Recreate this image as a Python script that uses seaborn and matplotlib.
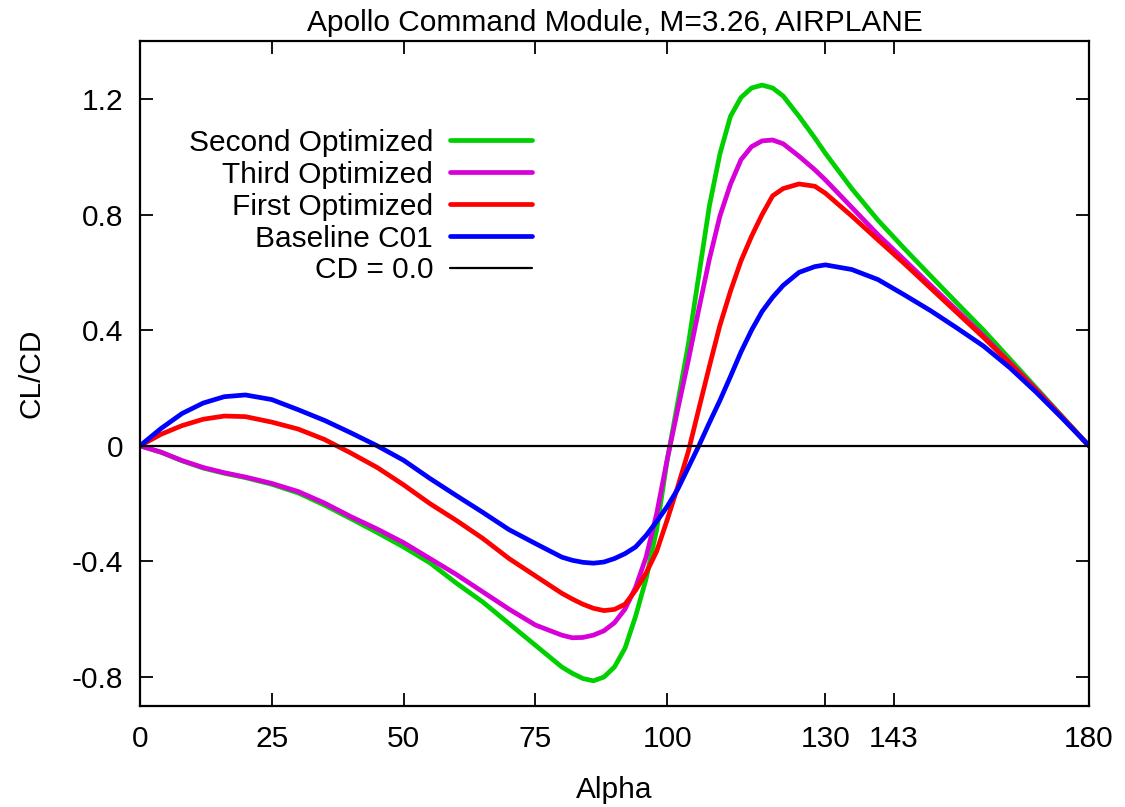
import pandas as pd
import numpy as np
import matplotlib
matplotlib.use('Agg')
import matplotlib.pyplot as plt
import seaborn as sns

## 받음각(Alpha) 격자와 각 형상의 CL/CD 값
alpha = [0, 4, 8, 12, 16, 20, 25, 30, 35, 40, 45, 50, 55, 60, 65, 70, 75, 80,
         82, 84, 86, 88, 90, 92, 94, 96, 98, 100,
         102, 104, 106, 108, 110, 112, 114, 116, 118, 120, 122,
         125, 128, 130, 135, 140, 145, 150, 155, 160, 165, 170, 175, 180]

second_opt = [0, -0.022, -0.052, -0.077, -0.095, -0.11, -0.133, -0.163, -0.205, -0.252,
              -0.30, -0.35, -0.405, -0.475, -0.54, -0.615, -0.69, -0.765,
              -0.787, -0.805, -0.813, -0.80, -0.765, -0.70, -0.59, -0.46, -0.29, -0.05,
              0.15, 0.35, 0.59, 0.83, 1.01, 1.14, 1.205, 1.238, 1.248, 1.238, 1.21,
              1.14, 1.065, 1.012, 0.89, 0.78, 0.682, 0.587, 0.493, 0.40, 0.30, 0.20, 0.10, 0]

third_opt = [0, -0.022, -0.051, -0.075, -0.093, -0.108, -0.13, -0.158, -0.198, -0.245,
             -0.288, -0.335, -0.39, -0.445, -0.505, -0.565, -0.62, -0.655,
             -0.664, -0.663, -0.655, -0.64, -0.612, -0.565, -0.49, -0.385, -0.235, -0.047,
             0.126, 0.295, 0.473, 0.646, 0.795, 0.905, 0.99, 1.035, 1.055, 1.058, 1.045,
             1.002, 0.955, 0.92, 0.825, 0.73, 0.643, 0.555, 0.468, 0.38, 0.288, 0.195, 0.098, 0]

first_opt = [0, 0.04, 0.07, 0.092, 0.103, 0.101, 0.082, 0.058, 0.022, -0.025,
             -0.075, -0.135, -0.20, -0.258, -0.32, -0.39, -0.45, -0.51,
             -0.53, -0.548, -0.562, -0.57, -0.566, -0.548, -0.50, -0.44, -0.365, -0.256,
             -0.142, -0.02, 0.128, 0.275, 0.417, 0.535, 0.64, 0.725, 0.80, 0.865, 0.89,
             0.906, 0.898, 0.874, 0.795, 0.712, 0.63, 0.545, 0.46, 0.375, 0.285, 0.192, 0.097, 0]

baseline = [0, 0.06, 0.112, 0.148, 0.170, 0.176, 0.16, 0.125, 0.088, 0.045,
            0.0, -0.05, -0.113, -0.172, -0.23, -0.29, -0.338, -0.385,
            -0.396, -0.403, -0.406, -0.402, -0.39, -0.373, -0.35, -0.31, -0.262, -0.21,
            -0.15, -0.075, 0.0, 0.08, 0.157, 0.24, 0.325, 0.40, 0.465, 0.514, 0.555,
            0.60, 0.62, 0.626, 0.61, 0.575, 0.522, 0.467, 0.407, 0.345, 0.27, 0.185, 0.094, 0]

series_names = ['Second Optimized', 'Third Optimized', 'First Optimized', 'Baseline C01']
series_colors = ['#00d000', '#d800d8', '#ff0000', '#0000ff']
xticks = [0, 25, 50, 75, 100, 130, 143, 180]
yticks = [-0.8, -0.4, 0, 0.4, 0.8, 1.2]
ytick_labels = ['-0.8', '-0.4', '0', '0.4', '0.8', '1.2']

df = pd.concat([pd.DataFrame({'Alpha': alpha, 'CLCD': vals, 'Case': name})
                for name, vals in zip(series_names, [second_opt, third_opt, first_opt, baseline])],
               ignore_index=True)

sns.set_style('ticks')
plt.rcParams['font.family'] = ['Liberation Sans', 'DejaVu Sans']
plt.rcParams['text.color'] = 'black'
plt.rcParams['axes.labelcolor'] = 'black'
plt.rcParams['xtick.color'] = 'black'
plt.rcParams['ytick.color'] = 'black'
plt.rcParams['axes.edgecolor'] = 'black'
FS = 21.5

fig = plt.figure(figsize=(11.25, 8.07), dpi=100)
ax = fig.add_axes([0.1244, 0.1252, 0.968 - 0.1244, 0.949 - 0.1252])

sns.lineplot(data=df, x='Alpha', y='CLCD', hue='Case', hue_order=series_names,
             palette=series_colors, linewidth=3.4, sort=False, ax=ax)
ax.axhline(0, color='k', linewidth=1.6, label='CD = 0.0')

ax.set_xlim(0, 180)
ax.set_ylim(-0.9, 1.4)
ax.set_xticks(xticks)
ax.set_xticklabels([str(t) for t in xticks])
ax.set_yticks(yticks)
ax.set_yticklabels(ytick_labels)
ax.tick_params(direction='in', length=9.5, width=1.3, top=True, right=True,
               labelsize=FS, colors='black')
ax.tick_params(axis='y', pad=12)
ax.tick_params(axis='x', pad=14)
for sp in ax.spines.values():
    sp.set_linewidth(1.6)
    sp.set_color('black')

ax.set_xlabel('Alpha', fontsize=FS, labelpad=16, color='black')
ax.set_ylabel('CL/CD', fontsize=FS, labelpad=19, color='black')
ax.set_title('Apollo Command Module, M=3.26, AIRPLANE', fontsize=FS, pad=7, color='black')

handles, labels = ax.get_legend_handles_labels()
leg = ax.legend(handles, labels, loc='upper right', bbox_to_anchor=(0.413, 0.868),
                frameon=False, markerfirst=False, fontsize=FS, borderpad=0, borderaxespad=0,
                handlelength=2.74, handletextpad=0.57, labelspacing=0.13)
for t in leg.get_texts():
    t.set_color('black')

fig.savefig('out.png', dpi=100)
